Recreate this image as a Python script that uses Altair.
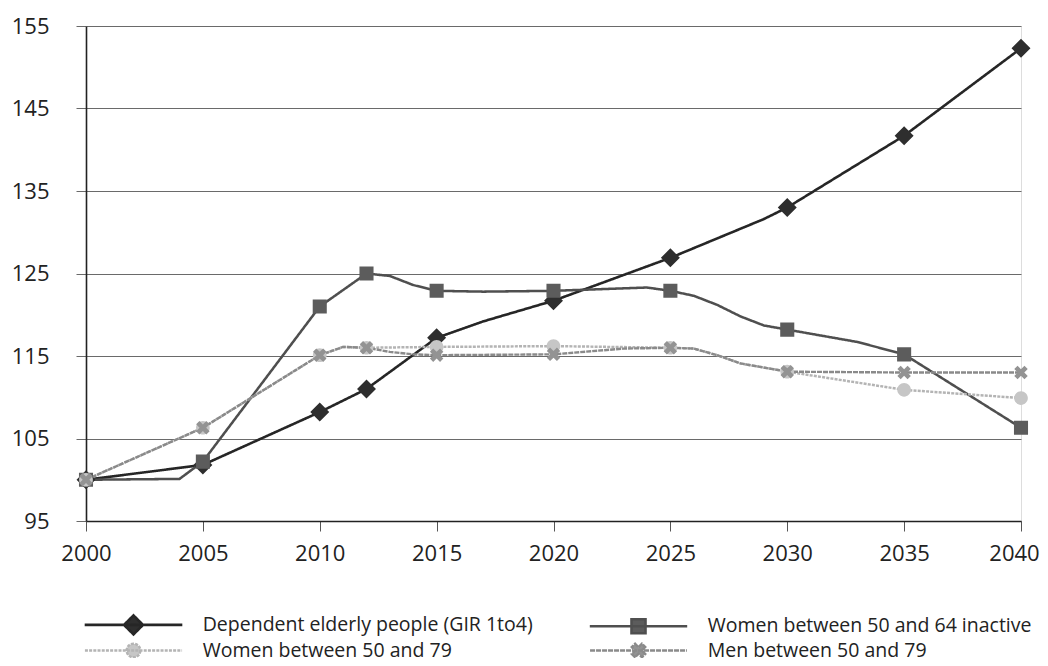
import math
import altair as alt
import pandas as pd

series = [
    "Dependent elderly people (GIR 1to4)",
    "Women between 50 and 64 inactive",
    "Women between 50 and 79",
    "Men between 50 and 79",
]

dep_years = [2000, 2005, 2010, 2012, 2015, 2017, 2020, 2025, 2029, 2030, 2035, 2040]
dep_values = [100, 101.8, 108.2, 111.0, 117.2, 119.2, 121.7, 126.9, 131.6, 133.0, 141.7, 152.3]

wi_years = [2000, 2004, 2005, 2010, 2012, 2013, 2014, 2015, 2017, 2020, 2024, 2025,
            2026, 2027, 2028, 2029, 2030, 2033, 2035, 2040]
wi_values = [100, 100.1, 102.2, 121.0, 125.0, 124.7, 123.6, 122.9, 122.8, 122.9, 123.3, 122.9,
             122.3, 121.2, 119.8, 118.7, 118.2, 116.7, 115.2, 106.3]

wf_years = [2000, 2005, 2010, 2011, 2012, 2015, 2020, 2025, 2026, 2027, 2028, 2030, 2035, 2040]
wf_values = [100, 106.3, 115.1, 116.1, 116.0, 116.1, 116.2, 116.0, 115.9, 115.1, 114.1, 113.1, 110.9, 109.9]

m_years = [2000, 2005, 2010, 2011, 2012, 2013, 2014, 2015, 2020, 2023, 2025, 2026, 2027, 2028,
           2030, 2035, 2040]
m_values = [100, 106.3, 115.1, 116.1, 116.0, 115.5, 115.2, 115.1, 115.2, 115.9, 116.0, 115.9, 115.1,
            114.1, 113.1, 113.0, 113.0]

marker_years = [2000, 2005, 2010, 2012, 2015, 2020, 2025, 2030, 2035, 2040]

x_ticks = [2000, 2005, 2010, 2015, 2020, 2025, 2030, 2035, 2040]
y_ticks = [95, 105, 115, 125, 135, 145, 155]

line_colors = ["#262626", "#4f4f4f", "#b4b4b4", "#8a8a8a"]
line_widths = [2.6, 2.4, 1.9, 2.2]
line_dashes = [[1, 0], [1, 0], [3, 1.2], [5, 1]]
marker_colors = ["#2e2e2e", "#5c5c5c", "#c6c6c6", "#939393"]
marker_sizes = [327, 322, 292, 300]

all_years = [dep_years, wi_years, wf_years, m_years]
all_values = [dep_values, wi_values, wf_values, m_values]

rows = []
for s, ys, vs in zip(series, all_years, all_values):
    for y, v in zip(ys, vs):
        rows.append({"series": s, "year": y, "value": v})
lines_df = pd.DataFrame(rows)
points_df = lines_df[lines_df["year"].isin(marker_years)].copy()


def x_polygon(a, t):
    pts = [(t, -a), (t, -t), (a, -t), (a, t), (t, t), (t, a), (-t, a), (-t, t),
           (-a, t), (-a, -t), (-t, -t), (-t, -a)]
    r = [((x - y) / math.sqrt(2), (x + y) / math.sqrt(2)) for x, y in pts]
    return "M" + "L".join(f"{x:.3f},{y:.3f}" for x, y in r) + "Z"


# one symbol per series: a zero-area line segment (only visible when stroked,
# i.e. in the legend) with the marker in the middle
L = 5.4
leg_line = f"M{-L},0H{L}"
shape_paths = [
    leg_line + "M0,-1.05L1.05,0L0,1.05L-1.05,0Z",
    leg_line + "M-0.78,-0.78H0.78V0.78H-0.78Z",
    leg_line + "M0.76,0A0.76,0.76,0,1,1,-0.76,0A0.76,0.76,0,1,1,0.76,0Z",
    leg_line + x_polygon(0.8, 0.26),
]


def make_legend():
    return alt.Legend(
        title=None, orient="none", legendX=37, legendY=588, columns=2, direction="horizontal",
        columnPadding=51, rowPadding=-10, padding=0, symbolSize=289, symbolOffset=0,
        labelOffset=58.7, labelFont="Open Sans", labelFontSize=19.5, labelColor="#222222",
        labelLimit=0, symbolStrokeWidth=2.2, symbolOpacity=1, symbolFillColor="#333333",
    )


x_enc = alt.X(
    "year:Q",
    scale=alt.Scale(domain=[2000, 2040], nice=False),
    axis=alt.Axis(values=x_ticks, format="d", title=None, grid=False, tickSize=10,
                  tickColor="#555555", domainColor="#222222", domainWidth=1.6,
                  labelFont="Open Sans", labelFontSize=22, labelColor="#222222",
                  labelPadding=12, labelFlush=False, labelOverlap=False,
                  labelOffset=alt.ExprRef("datum.value == 2040 ? -7 : 0")),
)
y_enc = alt.Y(
    "value:Q",
    scale=alt.Scale(domain=[95, 155], nice=False, zero=False),
    axis=alt.Axis(values=y_ticks, title=None, grid=True, gridColor="#6a6a6a", gridWidth=1,
                  tickSize=10, tickColor="#6a6a6a", domainColor="#222222", domainWidth=1.6,
                  labelFont="Open Sans", labelFontSize=22, labelColor="#222222",
                  labelPadding=27, labelOverlap=False),
)

lines = alt.Chart(lines_df).mark_line(strokeJoin="round").encode(
    x=x_enc,
    y=y_enc,
    stroke=alt.Stroke("series:N", scale=alt.Scale(domain=series, range=line_colors),
                      legend=make_legend()),
    strokeWidth=alt.StrokeWidth("series:N", scale=alt.Scale(domain=series, range=line_widths), legend=None),
    strokeDash=alt.StrokeDash("series:N", scale=alt.Scale(domain=series, range=line_dashes),
                              legend=make_legend()),
    detail="series:N",
)

points = alt.Chart(points_df).mark_point(filled=True, opacity=1).encode(
    x=x_enc,
    y=y_enc,
    color=alt.Color("series:N", scale=alt.Scale(domain=series, range=marker_colors),
                    legend=make_legend()),
    shape=alt.Shape("series:N", scale=alt.Scale(domain=series, range=shape_paths),
                    legend=make_legend()),
    size=alt.Size("series:N", scale=alt.Scale(domain=series, range=marker_sizes), legend=None),
)

chart = alt.layer(lines, points).properties(
    width=935, height=495,
    padding={"left": 78, "top": 18, "right": 19, "bottom": 137},
    autosize=alt.AutoSizeParams(type="none"),
).configure_view(stroke="#666666", strokeWidth=1).configure(background="white")

chart.save("out.html", embed_options={"renderer": "svg", "actions": False})
